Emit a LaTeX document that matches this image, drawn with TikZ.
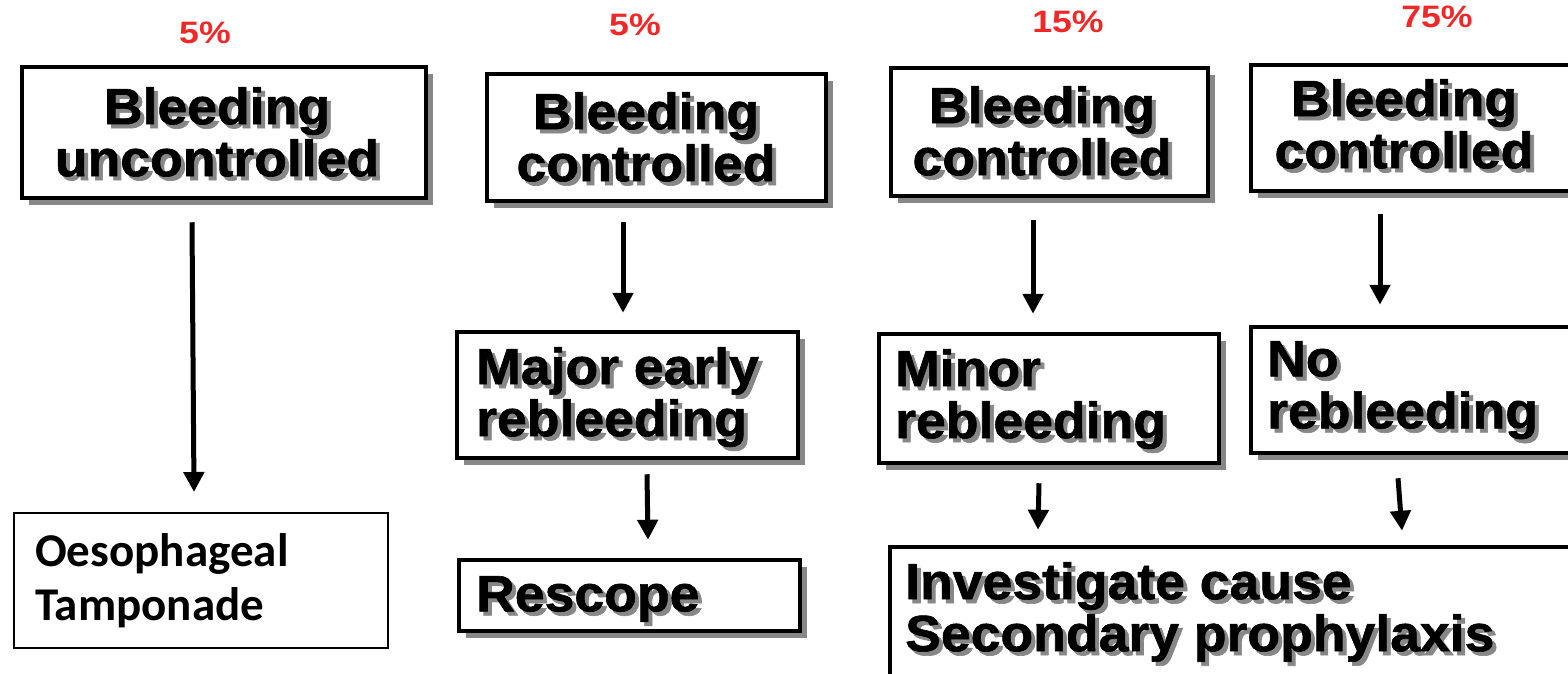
\documentclass[tikz,border=0pt]{standalone}
\usepackage{fontspec}
\usetikzlibrary{shadows,arrows.meta,calc}
\newfontfamily\boxfont{Liberation Sans}[FakeStretch=1.05, BoldFeatures={FakeBold=1.2}]
\newfontfamily\pctfont{Liberation Sans}[FakeStretch=1.15]
\newfontfamily\calfont{Carlito}
\definecolor{pctred}{RGB}{240,40,40}
\definecolor{shgray}{RGB}{135,135,135}
\newcommand\sh[1]{\leavevmode\rlap{\kern4pt\raisebox{-4pt}{\textcolor{shgray}{#1}}}#1}
\begin{document}
\begin{tikzpicture}[x=1pt,y=-1pt,
 box/.style={draw, line width=4.5pt, fill=white, inner sep=0pt,
   drop shadow={shadow xshift=6.5pt, shadow yshift=-6.5pt, fill=shgray, opacity=1}},
 ttxt/.style={inner sep=0pt, font=\boxfont\bfseries\fontsize{51}{52}\selectfont},
 pct/.style={inner sep=0pt, text=pctred, font=\pctfont\bfseries\fontsize{31}{36}\selectfont},
 arr/.style={line width=5pt, -{Triangle[width=20pt,length=20pt]}},
 plainbox/.style={draw, line width=2pt, fill=white, inner sep=0pt}]

\useasboundingbox (0,0) rectangle (1568,673);
\clip (0,0) rectangle (1568,673);

% percentages
\node[pct] (p1) at (205,33) {5\%};
\node[pct] (p2) at (635,25) {5\%};
\node[pct] (p3) at (1068,22) {15\%};
\node[pct] (p4) at (1437,17) {75\%};

% top boxes
\node[box, minimum width=404pt, minimum height=131pt] (b1) at (224,132.5) {};
\node[box, minimum width=339pt, minimum height=127pt] (b2) at (656.5,137.5) {};
\node[box, minimum width=317pt, minimum height=128pt] (b3) at (1049.5,132) {};
\node[box, minimum width=367pt, minimum height=126pt] (b4) at (1434.5,128) {};

\node[ttxt, anchor=north, align=center] (b1t) at (217,87) {\sh{Bleeding}\\\sh{uncontrolled}};
\node[ttxt, anchor=north, align=center] (b2t) at (646,92) {\sh{Bleeding}\\\sh{controlled}};
\node[ttxt, anchor=north, align=center] (b3t) at (1042,86) {\sh{Bleeding}\\\sh{controlled}};
\node[ttxt, anchor=north, align=center] (b4t) at (1404,79) {\sh{Bleeding}\\\sh{controlled}};

% middle boxes
\node[box, minimum width=341pt, minimum height=126pt] (m) at (627.5,395) {};
\node[box, minimum width=340pt, minimum height=129pt] (mi) at (1049,398.5) {};
\node[box, minimum width=367pt, minimum height=126pt] (n) at (1434.5,390) {};

\node[ttxt, anchor=north west, align=left] (mt) at (476,347) {\sh{Major early}\\\sh{rebleeding}};
\node[ttxt, anchor=north west, align=left] (mit) at (895,349) {\sh{Minor}\\\sh{rebleeding}};
\node[ttxt, anchor=north west, align=left] (nt) at (1267,341) {\sh{No}\\\sh{rebleeding}};

% bottom boxes
\node[box, minimum width=341pt, minimum height=71pt] (r) at (629.5,595.5) {};
\node[ttxt, anchor=north west, align=left] (rt) at (476,576) {\sh{Rescope}};
\node[box, minimum width=728pt, minimum height=151pt] (i) at (1254,622.5) {};
\node[ttxt, anchor=north west, align=left] (it) at (905,562) {\sh{Investigate cause}\\\sh{Secondary prophylaxis}};

\node[plainbox, minimum width=374pt, minimum height=135pt] (o) at (201,580.5) {};
\node[inner sep=0pt, anchor=north west, align=left, font=\calfont\bfseries\fontsize{47}{54}\selectfont] (ot) at (35,533) {Oesophageal\\Tamponade};

% arrows
\draw[arr] ([shift={(-32,22)}]b1.south) -- ([shift={(-7,-20)}]o.north);
\draw[arr] ([shift={(-33.5,19)}]b2.south) -- ([shift={(-4.5,-17)}]m.north);
\draw[arr] ([shift={(-16.5,22)}]b3.south) -- ([shift={(-16,-18)}]mi.north);
\draw[arr] ([shift={(-54.5,21)}]b4.south) -- ([shift={(-54.5,-20)}]n.north);
\draw[arr] ([shift={(19.5,14)}]m.south) -- ([shift={(18.5,-18)}]r.north);
\draw[arr] ([shift={(-10,18)}]mi.south) -- ([shift={(-216,-15)}]i.north);
\draw[arr] ([shift={(-36.5,23)}]n.south) -- ([shift={(148,-14)}]i.north);
\end{tikzpicture}
\end{document}
